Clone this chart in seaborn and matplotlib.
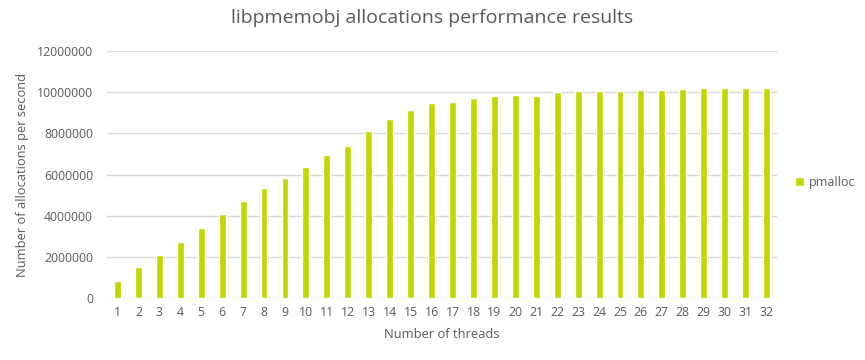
import matplotlib
matplotlib.use("Agg")
import matplotlib.pyplot as plt
import matplotlib.ticker as mticker
import pandas as pd
import seaborn as sns

# ── Data ──────────────────────────────────────────────────────────────────────
threads = list(range(1, 33))
pmalloc = [
    830000, 1510000, 2100000, 2730000, 3410000, 4100000, 4730000, 5370000,
    5850000, 6390000, 6930000, 7370000, 8100000, 8680000, 9120000, 9490000,
    9530000, 9720000, 9810000, 9860000, 9810000, 10010000, 10050000, 10050000,
    10050000, 10100000, 10100000, 10150000, 10200000, 10200000, 10200000, 10200000,
]
series_name = "pmalloc"

BAR_COLOR = "#C4D600"
TEXT_COLOR = "#595959"
GRID_COLOR = "#D9D9D9"

sns.set_theme(style="white")
plt.rcParams["font.family"] = ["Open Sans", "DejaVu Sans"]

df = pd.DataFrame({"threads": threads, "value": pmalloc,
                   "series": [series_name] * len(threads)})

fig = plt.figure(figsize=(8.65, 3.6), dpi=100)
ax = fig.add_axes([0.1237, 0.172, 0.7746, 0.686])

sns.barplot(data=df, x="threads", y="value", hue="series",
            palette={series_name: BAR_COLOR}, saturation=1,
            width=0.33, ax=ax)

ax.set_ylim(0, 12000000)
ax.set_xlim(-0.5, len(threads) - 0.5)
ax.yaxis.set_major_locator(mticker.MultipleLocator(2000000))
ax.yaxis.set_major_formatter(mticker.FuncFormatter(lambda v, _: f"{v:.0f}"))
ax.grid(axis="y", color=GRID_COLOR, linewidth=1)
ax.set_axisbelow(True)
for s in ax.spines.values():
    s.set_visible(False)

ax.tick_params(axis="both", length=0, labelsize=8.8, colors=TEXT_COLOR)
ax.tick_params(axis="y", pad=10)
ax.tick_params(axis="x", pad=6)

ax.set_xlabel("Number of threads", fontsize=9.3, color=TEXT_COLOR, labelpad=6)
ax.set_ylabel("Number of allocations per second", fontsize=9.3,
              color=TEXT_COLOR, labelpad=6)
fig.suptitle("libpmemobj allocations performance results", fontsize=14,
             color=TEXT_COLOR, x=0.5, y=0.975)

leg = ax.legend(loc="center left", bbox_to_anchor=(1.01, 0.47), frameon=False,
                handlelength=0.7, handleheight=0.7, handletextpad=0.4,
                fontsize=9)
for t in leg.get_texts():
    t.set_color(TEXT_COLOR)

fig.savefig("out.png", dpi=100)
